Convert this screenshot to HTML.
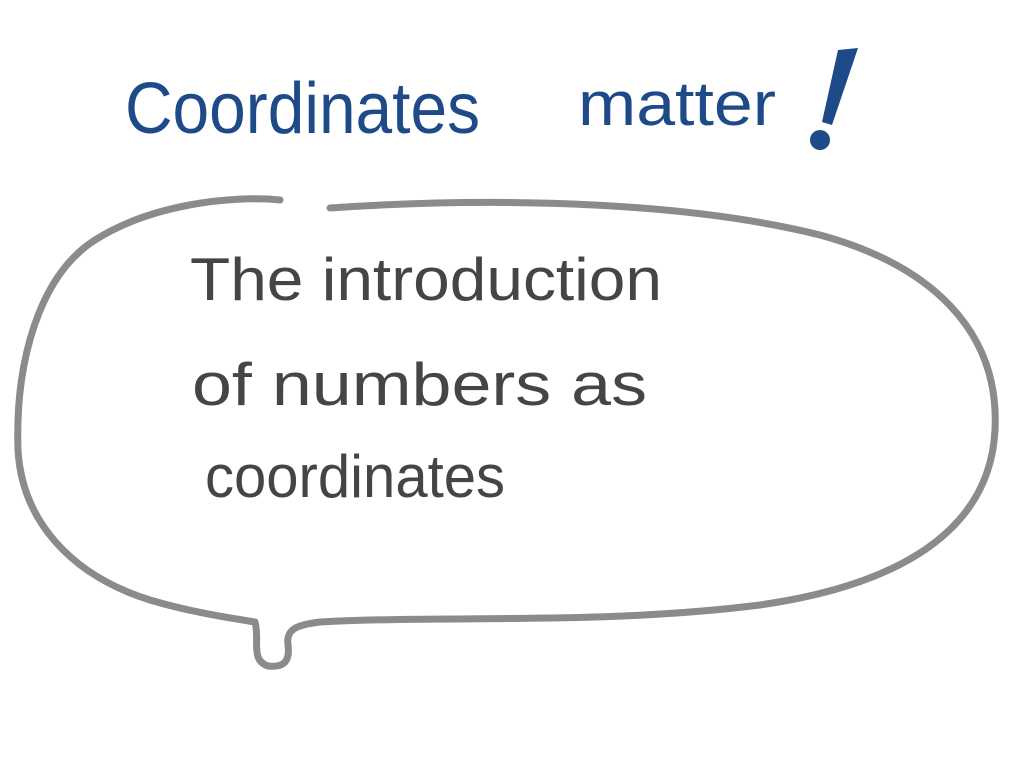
<!DOCTYPE html>
<html><head><meta charset="utf-8"><style>html,body{margin:0;padding:0;background:#fff;}svg{display:block}</style></head>
<body>
<svg width="1024" height="768" viewBox="0 0 1024 768" xmlns="http://www.w3.org/2000/svg">
<text x="125" y="133" font-family="Liberation Sans, sans-serif" font-size="72" fill="#1f4a88" textLength="355" lengthAdjust="spacingAndGlyphs">Coordinates</text>
<text x="578" y="125" font-family="Liberation Sans, sans-serif" font-size="62" fill="#1f4a88" textLength="198" lengthAdjust="spacingAndGlyphs">matter</text>
<path d="M838 50 L858 48 L832 125 L822 122 Z" fill="#1f4a88"/>
<circle cx="820" cy="140" r="10" fill="#1f4a88"/>
<path d="M280 200 C230 195 150 205 95 240 C40 275 15 360 18 450 C22 520 70 575 150 600 C190 612 230 618 255 622 C260 640 250 660 268 666 C285 668 290 660 288 645 C286 630 295 625 320 622 C450 615 600 625 760 605 C900 585 990 530 995 430 C1000 330 930 265 820 235 C700 205 520 195 330 208"
 fill="none" stroke="#8b8b88" stroke-width="7" stroke-linecap="round" stroke-linejoin="round"/>
<g font-family="Liberation Sans, sans-serif" font-size="60" fill="#454544">
<text x="190" y="300" textLength="472" lengthAdjust="spacingAndGlyphs">The introduction</text>
<text x="192" y="405" textLength="455" lengthAdjust="spacingAndGlyphs">of numbers as</text>
<text x="205" y="497" textLength="300" lengthAdjust="spacingAndGlyphs">coordinates</text>
</g>
</svg>
</body></html>
